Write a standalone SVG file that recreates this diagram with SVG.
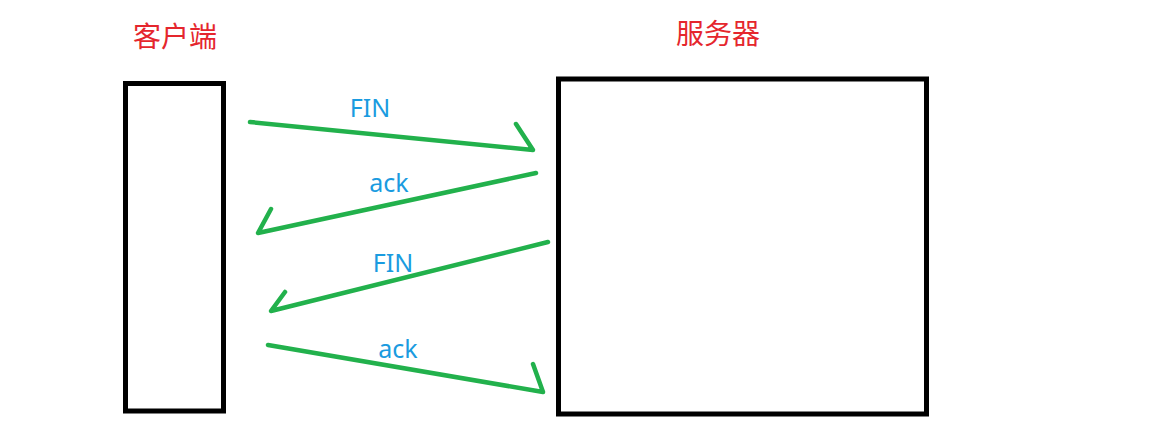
<svg xmlns="http://www.w3.org/2000/svg" width="1157" height="440" viewBox="0 0 1157 440">
<style>
.box{fill:none;stroke:#000;stroke-width:5}
.title{font-family:"Noto Sans CJK SC","Noto Sans",sans-serif;font-size:28px;fill:#e5262d}
.lbl{font-family:"Noto Sans","Open Sans",sans-serif;font-size:25px;fill:#1a9be0}
.arr{fill:none;stroke:#22b14c;stroke-width:4.5;stroke-linecap:round;stroke-linejoin:round}
</style>
<rect width="1157" height="440" fill="#fff"/>
<g id="client">
<rect class="box" x="125.5" y="83.5" width="98" height="327.5"/>
<text class="title" x="175" y="47" text-anchor="middle">客户端</text>
</g>
<g id="server">
<rect class="box" x="558.5" y="79" width="368" height="335"/>
<text class="title" x="718" y="44" text-anchor="middle">服务器</text>
</g>
<g id="connectors">
<path class="arr" d="M250,122 L533,150 L516,124"/>
<text class="lbl" x="370" y="117" text-anchor="middle">FIN</text>
<path class="arr" d="M536,173 L258,233 L271,209"/>
<text class="lbl" x="389" y="192" text-anchor="middle">ack</text>
<path class="arr" d="M548,242 L271,311 L285,292"/>
<text class="lbl" x="393" y="272" text-anchor="middle">FIN</text>
<path class="arr" d="M268,345 L543,392 L533,364"/>
<text class="lbl" x="398" y="358" text-anchor="middle">ack</text>
</g>
</svg>
